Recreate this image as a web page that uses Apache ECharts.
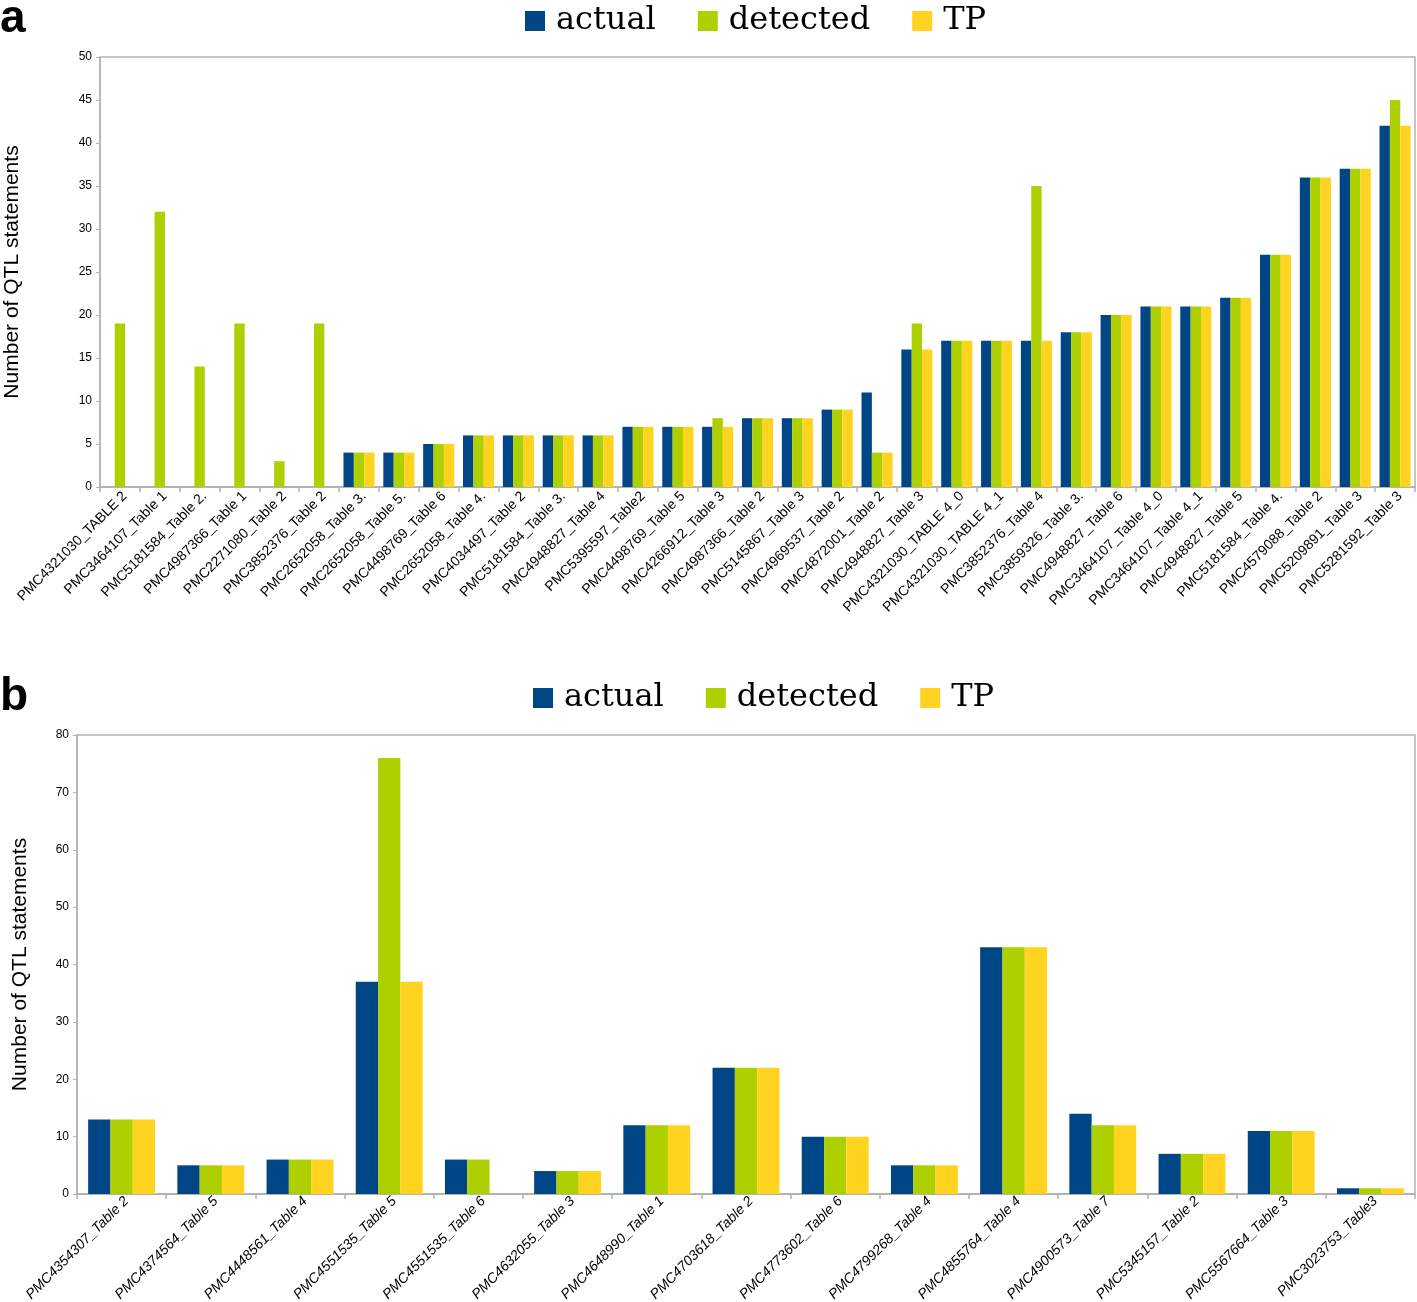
<!DOCTYPE html>
<html>
<head>
<meta charset="utf-8">
<script src="https://cdn.jsdelivr.net/npm/echarts@6/dist/echarts.min.js"></script>
<style>
html,body{margin:0;padding:0;background:#fff;}
#chart{width:1417px;height:1302px;}
</style>
</head>
<body>
<div id="chart"></div>
<script>
const seriesNames = ['actual', 'detected', 'TP'];

const catsA = ['PMC4321030_TABLE 2','PMC3464107_Table 1','PMC5181584_Table 2.','PMC4987366_Table 1','PMC2271080_Table 2','PMC3852376_Table 2','PMC2652058_Table 3.','PMC2652058_Table 5.','PMC4498769_Table 6','PMC2652058_Table 4.','PMC4034497_Table 2','PMC5181584_Table 3.','PMC4948827_Table 4','PMC5395597_Table2','PMC4498769_Table 5','PMC4266912_Table 3','PMC4987366_Table 2','PMC5145867_Table 3','PMC4969537_Table 2','PMC4872001_Table 2','PMC4948827_Table 3','PMC4321030_TABLE 4_0','PMC4321030_TABLE 4_1','PMC3852376_Table 4','PMC3859326_Table 3.','PMC4948827_Table 6','PMC3464107_Table 4_0','PMC3464107_Table 4_1','PMC4948827_Table 5','PMC5181584_Table 4.','PMC4579088_Table 2','PMC5209891_Table 3','PMC5281592_Table 3'];
const actualA   = [0,0,0,0,0,0,4,4,5,6,6,6,6,7,7,7,8,8,9,11,16,17,17,17,18,20,21,21,22,27,36,37,42];
const detectedA = [19,32,14,19,3,19,4,4,5,6,6,6,6,7,7,8,8,8,9,4,19,17,17,35,18,20,21,21,22,27,36,37,45];
const tpA       = [0,0,0,0,0,0,4,4,5,6,6,6,6,7,7,7,8,8,9,4,16,17,17,17,18,20,21,21,22,27,36,37,42];

const catsB = ['PMC4354307_Table 2','PMC4374564_Table 5','PMC4448561_Table 4','PMC4551535_Table 5','PMC4551535_Table 6','PMC4632055_Table 3','PMC4648990_Table 1','PMC4703618_Table 2','PMC4773602_Table 6','PMC4799268_Table 4','PMC4855764_Table 4','PMC4900573_Table 7','PMC5345157_Table 2','PMC5567664_Table 3','PMC3023753_Table3'];
const actualB   = [13,5,6,37,6,4,12,22,10,5,43,14,7,11,1];
const detectedB = [13,5,6,76,6,4,12,22,10,5,43,12,7,11,1];
const tpB       = [13,5,6,37,0,4,12,22,10,5,43,12,7,11,1];

const axisNameY = 'Number of QTL statements';
const colors = ['#004586', '#aecf00', '#ffd320'];
const gray = '#b3b3b3';

const chart = echarts.init(document.getElementById('chart'));

function yAx(gridIndex, max, interval, nameGap) {
  return {
    type: 'value', gridIndex, min: 0, max, interval,
    name: axisNameY, nameLocation: 'middle', nameGap,
    nameTextStyle: {fontSize: 21, color: '#000', fontFamily: 'Liberation Sans'},
    axisLine: {show: true, lineStyle: {color: gray, width: 1.5}},
    axisTick: {show: true, length: 4, lineStyle: {color: gray}},
    axisLabel: {fontSize: 12, color: '#000', fontFamily: 'Liberation Sans', margin: 8},
    splitLine: {show: false}
  };
}
function xAx(gridIndex, cats, italic, size, margin) {
  return {
    type: 'category', gridIndex, data: cats,
    axisLine: {show: true, lineStyle: {color: gray, width: 2}},
    axisTick: {show: true, length: 5, lineStyle: {color: gray, width: 1.5}},
    axisLabel: {rotate: 45, interval: 0, fontSize: size, color: '#000', verticalAlign: 'top',
      fontFamily: 'Liberation Sans', fontStyle: italic ? 'italic' : 'normal', margin}
  };
}
function legendAt(left, top) {
  return {
    left, top, data: seriesNames, icon: 'rect', itemWidth: 20, itemHeight: 20,
    itemGap: 42, selectedMode: false,
    textStyle: {fontSize: 32, fontFamily: 'DejaVu Serif', color: '#000', padding: [0,0,0,6]}
  };
}
function bars(names, datas, xi, gapCat) {
  return names.map((n, i) => ({
    name: n, type: 'bar', xAxisIndex: xi, yAxisIndex: xi, data: datas[i],
    barGap: '0%', barCategoryGap: gapCat,
    itemStyle: {color: colors[i]}, animation: false
  }));
}

chart.setOption({
  animation: false,
  color: colors,
  legend: [legendAt(520, 0), legendAt(528, 677)],
  grid: [
    {left: 100, right: 2, top: 57, height: 430, show: true, borderColor: gray, borderWidth: 1.5,
     backgroundColor: 'transparent', containLabel: false, outerBoundsMode: 'none'},
    {left: 77, right: 2, top: 735, height: 459, show: true, borderColor: gray, borderWidth: 1.5,
     backgroundColor: 'transparent', containLabel: false, outerBoundsMode: 'none'}
  ],
  xAxis: [xAx(0, catsA, false, 14, 2), xAx(1, catsB, true, 14, 0)],
  yAxis: [yAx(0, 50, 5, 77), yAx(1, 80, 10, 46)],
  series: [].concat(
    bars(seriesNames, [actualA, detectedA, tpA], 0, '22%'),
    bars(seriesNames, [actualB, detectedB, tpB], 1, '25%')
  ),
  graphic: [
    {type: 'text', left: 0, top: -4, style: {text: 'a', fontSize: 46, fontWeight: 'bold', fontFamily: 'Liberation Sans', fill: '#000'}},
    {type: 'text', left: 0, top: 674, style: {text: 'b', fontSize: 46, fontWeight: 'bold', fontFamily: 'Liberation Sans', fill: '#000'}}
  ]
});
</script>
</body>
</html>
